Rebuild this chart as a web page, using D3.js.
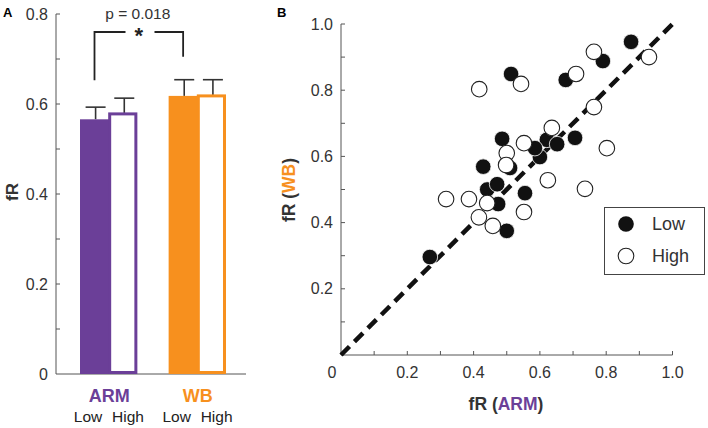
<!DOCTYPE html>
<html><head><meta charset="utf-8">
<script src="https://cdn.jsdelivr.net/npm/d3@7"></script>
<style>body{margin:0;background:#fff}svg{display:block;font-family:"Liberation Sans",Arial,sans-serif}</style>
</head><body><svg id="c" width="708" height="428"></svg>
<script>
// ---- Data ----
const groups = ["ARM", "WB"];
const levels = ["Low", "High"];
const barValues = [[0.566, 0.578], [0.618, 0.618]];
const barErrors = [[0.593, 0.613], [0.654, 0.654]];
const barTicks = [0, 0.2, 0.4, 0.6, 0.8];
const pText = "p = 0.018";

const lowArm = [0.268,0.429,0.441,0.471,0.474,0.500,0.486,0.510,0.555,0.600,0.621,0.652,0.585,0.706,0.678,0.790,0.875,0.513];
const lowWb  = [0.296,0.569,0.500,0.516,0.456,0.375,0.653,0.565,0.489,0.598,0.650,0.637,0.625,0.656,0.831,0.888,0.946,0.849];
const highArm = [0.417,0.317,0.386,0.441,0.416,0.458,0.552,0.500,0.498,0.552,0.636,0.802,0.624,0.736,0.763,0.709,0.763,0.929,0.543];
const highWb  = [0.803,0.471,0.471,0.459,0.416,0.390,0.640,0.610,0.574,0.432,0.686,0.625,0.528,0.502,0.749,0.849,0.916,0.900,0.819];
const scatTicks = [0.2, 0.4, 0.6, 0.8, 1.0];

const purple = "#6b3f98", orange = "#f7901e", axisC = "#555", textC = "#333";
const svg = d3.select("#c");

// ---- Panel A ----
svg.append("text").attr("x", 3).attr("y", 17).attr("font-weight", "bold").attr("font-size", 13).text("A");
const yA = d3.scaleLinear().domain([0, 0.8]).range([374, 14]);
const gA = svg.append("g");
gA.append("line").attr("x1", 56).attr("x2", 56).attr("y1", yA(0)).attr("y2", yA(0.8)).attr("stroke", axisC);
gA.append("line").attr("x1", 56).attr("x2", 246).attr("y1", yA(0)).attr("y2", yA(0)).attr("stroke", axisC);
d3.range(1, 9).forEach(i => gA.append("line").attr("x1", 56).attr("x2", 60).attr("y1", yA(i / 10)).attr("y2", yA(i / 10)).attr("stroke", axisC));
gA.selectAll(".yl").data(barTicks).join("text").attr("x", 48).attr("y", d => yA(d)).attr("dy", "0.35em")
  .attr("text-anchor", "end").attr("font-size", 16).attr("fill", textC).text(d => d === 0 ? "0" : d.toFixed(1));
gA.append("text").attr("transform", "translate(18,192) rotate(-90)").attr("text-anchor", "middle")
  .attr("font-weight", "bold").attr("font-size", 17).attr("fill", textC).text("fR");

const xGroup = d3.scaleBand().domain(groups).range([80, 225]).paddingInner(0.364);
const xLevel = d3.scaleBand().domain(levels).range([0, xGroup.bandwidth()]);
const colors = [purple, orange];
const labelOff = [8, 48];
groups.forEach((g, gi) => {
  levels.forEach((l, li) => {
    const w = xLevel.bandwidth();
    const x0 = xGroup(g) + xLevel(l) + (li === 0 ? 0 : 3);
    const bw = li === 0 ? w + 3 : w - 2;
    const v = barValues[gi][li];
    const cx = x0 + bw / 2;
    gA.append("line").attr("x1", cx).attr("x2", cx).attr("y1", yA(v)).attr("y2", yA(barErrors[gi][li])).attr("stroke", textC).attr("stroke-width", 1.6);
    gA.append("line").attr("x1", cx - 10).attr("x2", cx + 10).attr("y1", yA(barErrors[gi][li])).attr("y2", yA(barErrors[gi][li])).attr("stroke", textC).attr("stroke-width", 1.6);
    if (li === 0) {
      gA.append("rect").attr("x", x0).attr("y", yA(v)).attr("width", bw).attr("height", yA(0) - yA(v)).attr("fill", colors[gi]);
    } else {
      gA.append("rect").attr("x", x0 - 1.5).attr("y", yA(v)).attr("width", bw).attr("height", yA(0) - yA(v) - 1.5)
        .attr("fill", "#fff").attr("stroke", colors[gi]).attr("stroke-width", 3);
    }
    gA.append("text").attr("x", xGroup(g) + labelOff[li]).attr("y", 422).attr("text-anchor", "middle").attr("font-size", 15.5).attr("fill", "#222").text(l);
  });
  gA.append("text").attr("x", xGroup(g) + xGroup.bandwidth() / 2 + 1).attr("y", 402).attr("text-anchor", "middle")
    .attr("font-weight", "bold").attr("font-size", 18).attr("fill", colors[gi]).text(g);
});
// significance bracket
const bxL = xGroup("ARM") + 14.5, bxR = xGroup("WB") + 14.5;
const bTop = yA(0.76);
gA.append("path").attr("d", `M${bxL},${yA(0.653)}V${bTop}H${bxL + 31}M${bxL + 60},${bTop}H${bxR}V${yA(0.705)}`)
  .attr("fill", "none").attr("stroke", "#222").attr("stroke-width", 1.8);
gA.append("text").attr("x", (bxL + bxR) / 2).attr("y", bTop + 11).attr("text-anchor", "middle").attr("font-size", 22).attr("font-weight", "bold").attr("fill", "#222").text("*");
gA.append("text").attr("x", (bxL + bxR) / 2 - 1).attr("y", 19).attr("text-anchor", "middle").attr("font-size", 15.5).attr("fill", textC).text(pText);

// ---- Panel B ----
svg.append("text").attr("x", 277).attr("y", 17).attr("font-weight", "bold").attr("font-size", 13).text("B");
const xB = d3.scaleLinear().domain([0, 1]).range([341, 672.5]);
const yB = d3.scaleLinear().domain([0, 1]).range([355, 24]);
const gB = svg.append("g");
gB.append("line").attr("x1", xB(0)).attr("x2", xB(0)).attr("y1", yB(0)).attr("y2", yB(1)).attr("stroke", axisC);
gB.append("line").attr("x1", xB(0)).attr("x2", xB(1)).attr("y1", yB(0)).attr("y2", yB(0)).attr("stroke", axisC);
d3.range(1, 11).forEach(i => {
  gB.append("line").attr("x1", xB(0)).attr("x2", xB(0) + 4).attr("y1", yB(i / 10)).attr("y2", yB(i / 10)).attr("stroke", axisC);
  gB.append("line").attr("x1", xB(i / 10)).attr("x2", xB(i / 10)).attr("y1", yB(0)).attr("y2", yB(0) - 4).attr("stroke", axisC);
});
gB.selectAll(".yt").data(scatTicks).join("text").attr("x", 333).attr("y", d => yB(d)).attr("dy", "0.35em")
  .attr("text-anchor", "end").attr("font-size", 16).attr("fill", textC).text(d => d.toFixed(1));
gB.selectAll(".xt").data(scatTicks).join("text").attr("x", d => xB(d)).attr("y", 372).attr("dy", "0.35em")
  .attr("text-anchor", "middle").attr("font-size", 16).attr("fill", textC).text(d => d.toFixed(1));
gB.append("text").attr("x", xB(0) - 9).attr("y", 372).attr("dy", "0.35em").attr("text-anchor", "middle").attr("font-size", 16).attr("fill", textC).text("0");

const xt = gB.append("text").attr("x", 506).attr("y", 410).attr("text-anchor", "middle").attr("font-weight", "bold").attr("font-size", 17.5).attr("fill", textC);
xt.append("tspan").text("fR (");
xt.append("tspan").attr("fill", purple).text("ARM");
xt.append("tspan").text(")");
const yt = gB.append("text").attr("transform", "translate(295,190) rotate(-90)").attr("text-anchor", "middle").attr("font-weight", "bold").attr("font-size", 17.5).attr("fill", textC);
yt.append("tspan").text("fR (");
yt.append("tspan").attr("fill", orange).text("WB");
yt.append("tspan").text(")");

gB.append("line").attr("x1", xB(0)).attr("y1", yB(0)).attr("x2", xB(1)).attr("y2", yB(1))
  .attr("stroke", "#111").attr("stroke-width", 4.5).attr("stroke-dasharray", "12,7");

const r = 7.8;
gB.selectAll(".lo").data(lowArm.map((a, i) => [a, lowWb[i]])).join("circle")
  .attr("cx", d => xB(d[0])).attr("cy", d => yB(d[1])).attr("r", r).attr("fill", "#111").attr("stroke", "#fff").attr("stroke-width", 0.8);
gB.selectAll(".hi").data(highArm.map((a, i) => [a, highWb[i]])).join("circle")
  .attr("cx", d => xB(d[0])).attr("cy", d => yB(d[1])).attr("r", r).attr("fill", "#fff").attr("stroke", "#222").attr("stroke-width", 1.1);

// legend
const lg = gB.append("g");
lg.append("rect").attr("x", 604.5).attr("y", 207.5).attr("width", 100).attr("height", 67).attr("fill", "#fff").attr("stroke", "#444");
lg.append("circle").attr("cx", 626).attr("cy", 224).attr("r", r).attr("fill", "#111");
lg.append("circle").attr("cx", 626).attr("cy", 256).attr("r", r).attr("fill", "#fff").attr("stroke", "#222").attr("stroke-width", 1.1);
lg.append("text").attr("x", 652).attr("y", 224).attr("dy", "0.35em").attr("font-size", 18).attr("fill", textC).text("Low");
lg.append("text").attr("x", 652).attr("y", 256).attr("dy", "0.35em").attr("font-size", 18).attr("fill", textC).text("High");
</script></body></html>
